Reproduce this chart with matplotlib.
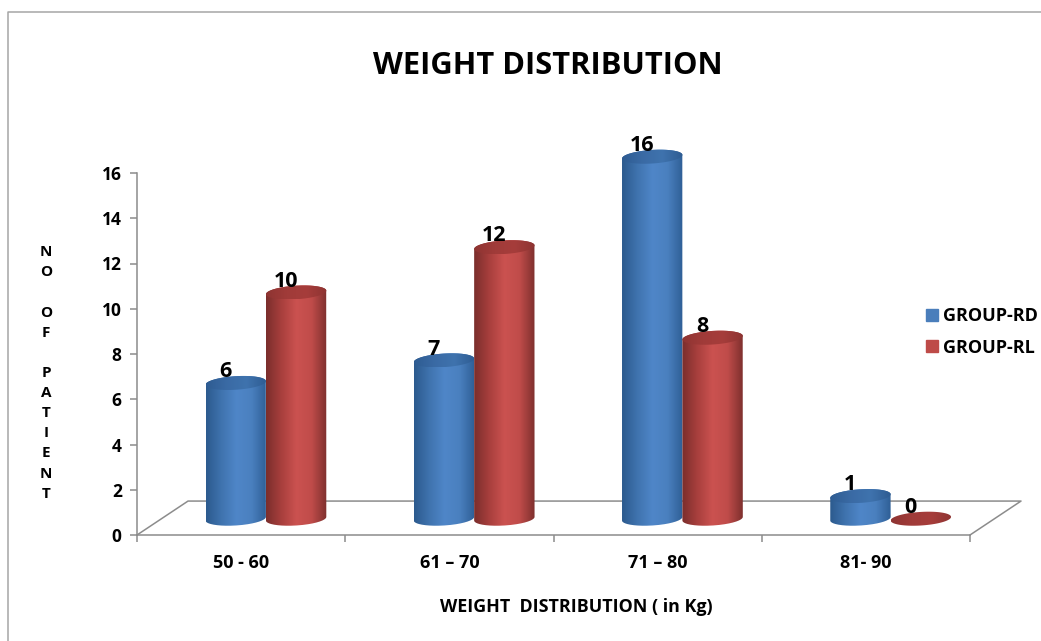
#!/usr/bin/env python3
import numpy as np
import matplotlib
matplotlib.use("Agg")
import matplotlib.pyplot as plt
from matplotlib.lines import Line2D
from matplotlib.patches import Patch, PathPatch
from matplotlib.path import Path

plt.rcParams["font.family"] = ["Open Sans", "DejaVu Sans"]
plt.rcParams["font.weight"] = "bold"

categories = ["50 - 60", "61 – 70", "71 – 80", "81- 90"]
group_rd = [6, 7, 16, 1]
group_rl = [10, 12, 8, 0]
y_ticks = [0, 2, 4, 6, 8, 10, 12, 14, 16]

GREY = "#8c8c8c"
BAR_WIDTH = 0.29
BASE = 0.72       # bars stand on the floor, not on the axis
RX = BAR_WIDTH / 2.0
RY = 0.30
TILT = 0.08


def ellipse_xy(cx, cy, start=0.0, stop=2.0 * np.pi):
    t = np.linspace(start, stop, 80)
    return cx + RX * np.cos(t), cy + RY * np.sin(t) + TILT * np.cos(t)


def shade(colors):
    # dark edge, light middle, dark edge
    rgb = np.array([matplotlib.colors.to_rgb(c) for c in colors])
    pos = np.linspace(0, 1, len(colors))
    xs = np.linspace(0, 1, 120)
    return np.dstack([np.interp(xs, pos, rgb[:, i]) for i in range(3)])


def clipped_gradient(axis, xs, ys, colors, zorder):
    verts = np.column_stack([xs, ys])
    patch = PathPatch(Path(verts), facecolor="none", edgecolor="none", zorder=zorder, clip_on=False)
    axis.add_patch(patch)
    image = axis.imshow(
        shade(colors),
        extent=(xs.min(), xs.max(), ys.min(), ys.max()),
        aspect="auto",
        interpolation="bilinear",
        zorder=zorder,
    )
    # the tallest bar pokes above the top of the axis
    image.set_clip_box(axis.figure.bbox)
    image.set_clip_path(patch)


def cylinder(axis, cx, value, side, top, zorder):
    bottom_y = BASE
    top_y = BASE + value
    if value > 0:
        bx, by = ellipse_xy(cx, bottom_y, np.pi, 2.0 * np.pi)
        tx, ty = ellipse_xy(cx, top_y, 0.0, np.pi)
        clipped_gradient(axis, np.r_[bx, tx], np.r_[by, ty], side, zorder)
    ex, ey = ellipse_xy(cx, top_y)
    clipped_gradient(axis, ex, ey, top, zorder + 0.1)


def plot(path):
    fig = plt.figure(figsize=(10.41, 6.41), dpi=100)
    ax = fig.add_axes([137 / 1041, 1 - 535 / 641, 833 / 1041, 362 / 641])

    blue_side = ["#2c5a8e", "#3f73ae", "#4f86c8", "#4a80bf", "#2f5f96"]
    blue_top = ["#2e5c92", "#3a6aa4", "#3f73ae", "#2e5c92"]
    red_side = ["#7b2e2c", "#a83f3d", "#cb5250", "#c04c4a", "#7f302e"]
    red_top = ["#8e3432", "#a03b39", "#a63d3b", "#8e3432"]

    for i, (rd, rl) in enumerate(zip(group_rd, group_rl)):
        blue_x = i + 0.474
        red_x = i + 0.764
        cylinder(ax, blue_x, rd, blue_side, blue_top, 3 + i)
        cylinder(ax, red_x, rl, red_side, red_top, 3.3 + i)
        ax.text(blue_x - 0.05, rd + BASE + 0.5, str(rd), ha="center", va="center",
                fontsize=15.5, color="black", zorder=10, clip_on=False)
        ax.text(red_x - 0.05, rl + BASE + 0.5, str(rl), ha="center", va="center",
                fontsize=15.5, color="black", zorder=10, clip_on=False)

    # floor of the 3D chart
    ax.add_line(Line2D([0, 0.245, 4.245, 4], [0, 1.5, 1.5, 0], color=GREY, lw=1.1, zorder=1, clip_on=False))

    ax.set_xlim(0, 4)
    ax.set_ylim(0, 16)
    ax.patch.set_alpha(0)
    ax.set_yticks(y_ticks)
    ax.set_xticks(range(5))
    ax.set_xticklabels([])
    ax.set_xticks(np.arange(4) + 0.5, categories, minor=True)
    ax.tick_params(axis="x", which="major", length=5, color=GREY, width=1.1)
    ax.tick_params(axis="x", which="minor", length=0, pad=13.5, labelsize=13)
    ax.tick_params(axis="y", length=5, color=GREY, width=1.1, pad=6, labelsize=12.5)
    for side in ["top", "right"]:
        ax.spines[side].set_visible(False)
    for side in ["left", "bottom"]:
        ax.spines[side].set_color(GREY)
        ax.spines[side].set_linewidth(1.1)

    ax.set_xlabel("WEIGHT  DISTRIBUTION ( in Kg)", fontsize=12.9, fontweight="bold", va="center")
    ax.xaxis.set_label_coords((576 - 137) / 833, -(607 - 535) / 362)
    ax.set_ylabel("N\nO\n\nO\nF\n\nP\nA\nT\nI\nE\nN\nT", rotation=0, fontsize=11,
                  fontweight="bold", linespacing=1.555, ha="center", va="center")
    ax.yaxis.set_label_coords((46 - 137) / 833, (535 - 373) / 362)

    fig.text(548 / 1041, 1 - 66 / 641, "WEIGHT DISTRIBUTION", ha="center", va="center",
             fontsize=22.2, fontweight="bold", color="black")

    handles = [Patch(color="#4a7ebb", label="GROUP-RD"), Patch(color="#be4b48", label="GROUP-RL")]
    fig.legend(handles=handles, loc="center left", bbox_to_anchor=(926 / 1041, 1 - 332 / 641),
               frameon=False, fontsize=13, handlelength=0.65, handleheight=0.65,
               handletextpad=0.3, labelspacing=0.75, borderpad=0, borderaxespad=0)

    # outer chart border, cut by the picture on the right and at the bottom
    fig.add_artist(Line2D([8 / 1041, 8 / 1041, 1], [0, 1 - 12 / 641, 1 - 12 / 641], color="#a6a6a6", lw=1.1))

    fig.savefig(path, dpi=100)


if __name__ == "__main__":
    plot("out.png")
